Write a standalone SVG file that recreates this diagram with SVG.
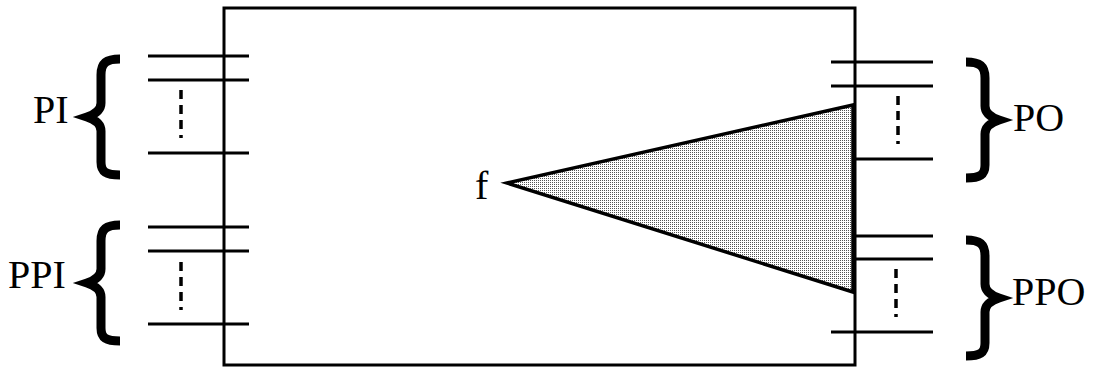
<svg xmlns="http://www.w3.org/2000/svg" width="1094" height="370" viewBox="0 0 1094 370">
<style>
.ln{stroke:#000;stroke-width:3;fill:none}
.dash{stroke:#000;stroke-width:3.5;fill:none;stroke-dasharray:9,6}
.brace{stroke:#000;stroke-width:9;fill:none;stroke-linejoin:miter;stroke-miterlimit:10}
.lbl{font-size:40px;fill:#000}
</style>
<defs>
<pattern id="stip" width="2" height="2" patternUnits="userSpaceOnUse">
<rect width="2" height="2" fill="#fff"/>
<rect width="1" height="1" fill="#555"/>
</pattern>
<path id="lbrace" d="M120,59 C106,59 101,63 101,75 L101,103 C101,110 96,114 87,117 C96,120 101,124 101,131 L101,162 C101,172 106,175 120,175"/>
</defs>
<rect fill="#fff" width="1094" height="370"/>
<g id="block">
<rect class="ln" x="224" y="8" width="631" height="357"/>
</g>
<g id="function-f">
<polygon points="507,183 853,105 853,292" fill="url(#stip)" stroke="#000" stroke-width="3.5" stroke-linejoin="miter"/>
<text class="lbl" font-family="Liberation Serif, Times New Roman, serif" x="475" y="199">f</text>
</g>
<g id="connectors">
<line class="ln" x1="148" y1="56" x2="249" y2="56"/>
<line class="ln" x1="148" y1="80" x2="249" y2="80"/>
<line class="ln" x1="148" y1="153" x2="249" y2="153"/>
<line class="dash" x1="181" y1="90" x2="181" y2="138"/>
<line class="ln" x1="148" y1="227" x2="249" y2="227"/>
<line class="ln" x1="148" y1="251" x2="249" y2="251"/>
<line class="ln" x1="148" y1="324" x2="249" y2="324"/>
<line class="dash" x1="181" y1="262" x2="181" y2="310"/>
<line class="ln" x1="831" y1="62" x2="933" y2="62"/>
<line class="ln" x1="831" y1="86" x2="933" y2="86"/>
<line class="ln" x1="855" y1="159" x2="933" y2="159"/>
<line class="dash" x1="898" y1="96" x2="898" y2="144"/>
<line class="ln" x1="855" y1="236" x2="933" y2="236"/>
<line class="ln" x1="855" y1="259" x2="933" y2="259"/>
<line class="ln" x1="831" y1="332" x2="933" y2="332"/>
<line class="dash" x1="896" y1="269" x2="896" y2="317"/>
</g>
<g id="PI">
<use href="#lbrace" class="brace"/>
<text class="lbl" font-family="Liberation Serif, Times New Roman, serif" x="33" y="123">PI</text>
</g>
<g id="PPI">
<use href="#lbrace" class="brace" transform="translate(0,166)"/>
<text class="lbl" font-family="Liberation Serif, Times New Roman, serif" x="8" y="288">PPI</text>
</g>
<g id="PO">
<use href="#lbrace" class="brace" transform="translate(1086,3) scale(-1,1)"/>
<text class="lbl" font-family="Liberation Serif, Times New Roman, serif" x="1013" y="131">PO</text>
</g>
<g id="PPO">
<use href="#lbrace" class="brace" transform="translate(1086,181) scale(-1,1)"/>
<text class="lbl" font-family="Liberation Serif, Times New Roman, serif" x="1012" y="305">PPO</text>
</g>
</svg>
